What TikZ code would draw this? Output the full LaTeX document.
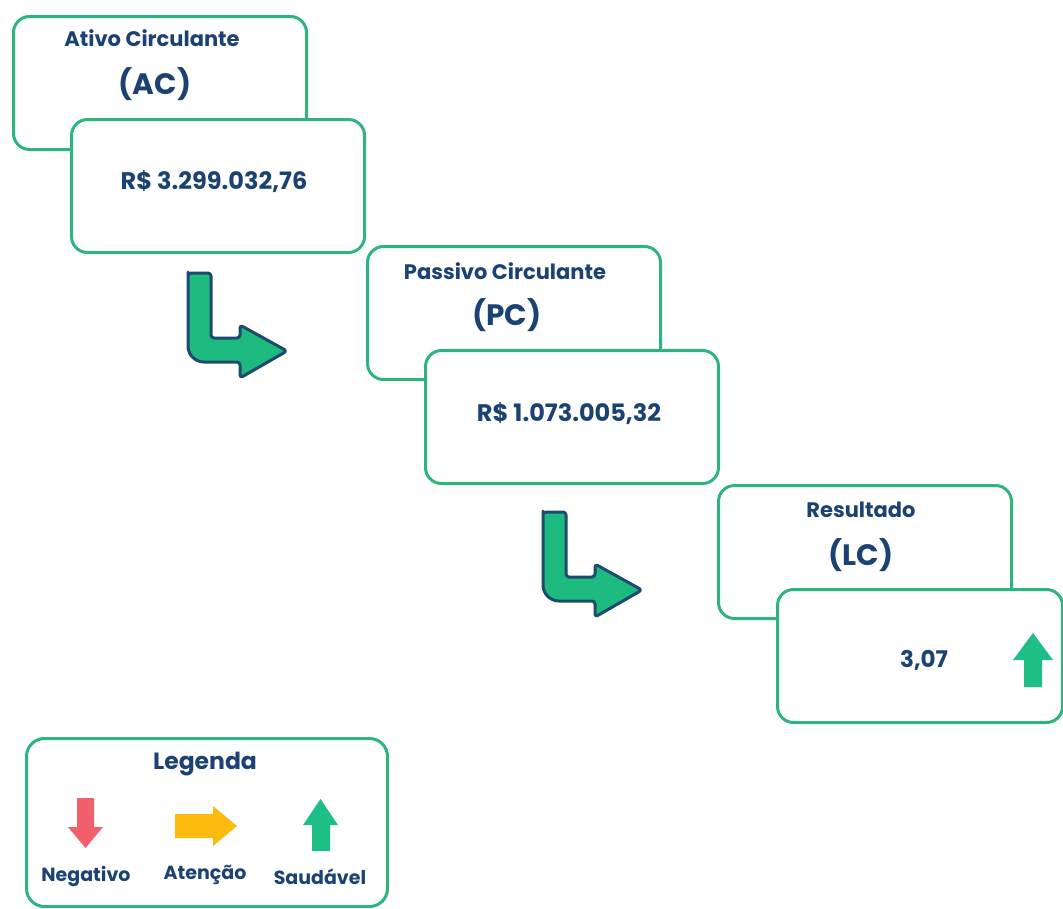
\documentclass[tikz,border=0pt]{standalone}
\usepackage{fontspec}
\setmainfont{Poppins}
\definecolor{boxgreen}{HTML}{2DB580}
\definecolor{navy}{HTML}{1B4272}
\definecolor{icongreen}{HTML}{1DBA80}
\definecolor{iconnavy}{HTML}{1D4A6E}
\definecolor{upgreen}{HTML}{1DBF84}
\definecolor{downred}{HTML}{F2606E}
\definecolor{warnyellow}{HTML}{FBBA0E}
\tikzset{
  card/.style={draw=boxgreen, line width=3pt, rounded corners=16pt, fill=white,
    minimum width=293pt, minimum height=133pt, anchor=north west, inner sep=0pt},
  ttl/.style={text=navy, font=\bfseries\fontsize{21}{23}\selectfont},
  abbr/.style={text=navy, font=\bfseries\fontsize{29.5}{32}\selectfont},
  val/.style={text=navy, font=\bfseries\fontsize{24}{26}\selectfont},
  lgd/.style={text=navy, font=\bfseries\fontsize{19}{21}\selectfont},
  bent/.style={fill=icongreen, draw=iconnavy, line width=3pt, line join=round},
}
\begin{document}
\begin{tikzpicture}[x=1pt,y=-1pt]
\useasboundingbox (0,0) rectangle (1063,908);
% --- AC
\node[card] (acb) at (12,15) {};
\node[card] (acf) at (70,118) {};
\node[ttl] (act) at (152,38) {Ativo Circulante};
\node[abbr] (aca) at (155,84) {(AC)};
\node[val] (acv) at (214,182) {R\$ 3.299.032,76};
% --- PC
\node[card] (pcb) at (366,245) {};
\node[card] (pcf) at (424,349) {};
\node[ttl] (pct) at (505,271) {Passivo Circulante};
\node[abbr] (pca) at (507,315) {(PC)};
\node[val] (pcv) at (569,414) {R\$ 1.073.005,32};
% --- LC
\node[card] (lcb) at (717,484) {};
\node[card, minimum width=285pt] (lcf) at (776,588) {};
\node[ttl] (lct) at (861,510) {Resultado};
\node[abbr] (lca) at (861,555) {(LC)};
\node[val, font=\bfseries\fontsize{23}{25}\selectfont] (lcv) at (924,660) {3,07};
\fill[upgreen] (1013,660) -- (1033,633) -- (1053,660) -- (1042,660) -- (1042,687) -- (1024,687) -- (1024,660) -- cycle;
% --- bent arrows
\foreach \ox/\oy in {188/273, 543/512}{
  \begin{scope}[shift={(\ox,\oy)}]
    \draw[bent] (0,2) [rounded corners=3pt] -- (0,0) -- (23,0) -- (23,65) -- (52,65) -- (52,52) -- (99,78) -- (52,105) -- (52,89) [rounded corners=16pt] -- (0,89) [rounded corners=3pt] -- (0,2) -- cycle;
  \end{scope}
}
% --- legend
\node[draw=boxgreen, line width=3pt, rounded corners=18pt, minimum width=361pt, minimum height=168pt, anchor=north west, inner sep=0pt] (leg) at (25,737) {};
\node[text=navy, font=\bfseries\fontsize{23.5}{26}\selectfont] (legt) at (205,764) {Legenda};
\fill[downred] (77,798) -- (94,798) -- (94,827) -- (103,827) -- (85.5,848) -- (68,827) -- (77,827) -- cycle;
\fill[warnyellow] (175,814) -- (213,814) -- (213,806) -- (237,826) -- (213,846) -- (213,838) -- (175,838) -- cycle;
\fill[upgreen] (303,825) -- (320.5,799) -- (338,825) -- (330,825) -- (330,851) -- (312,851) -- (312,825) -- cycle;
\node[lgd] (ln) at (86,876) {Negativo};
\node[lgd] (la) at (205,875) {Atenção};
\node[lgd] (ls) at (320,877) {Saudável};
\end{tikzpicture}
\end{document}
